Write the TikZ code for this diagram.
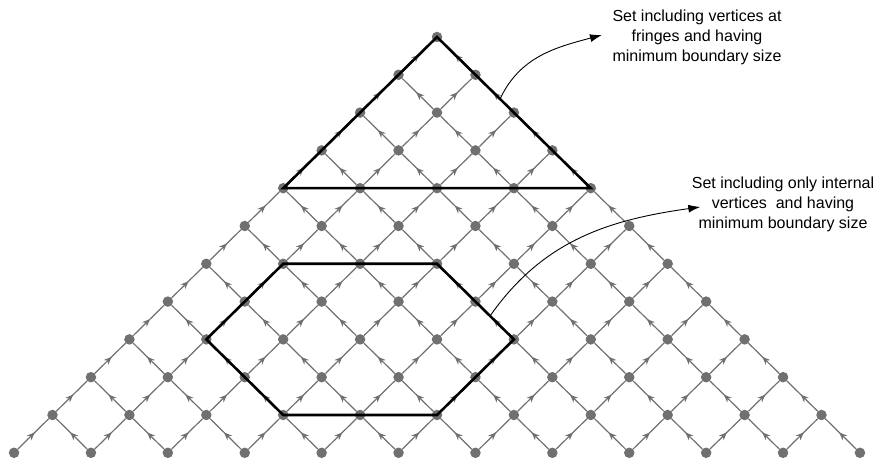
\documentclass[tikz,border=0pt]{standalone}
\usepackage{fontspec}
\setmainfont{Liberation Sans}
\usetikzlibrary{arrows.meta,decorations.markings,calc}

\definecolor{vgray}{RGB}{112,112,112}
\definecolor{egray}{RGB}{112,112,112}

\tikzset{
    vertex/.style={circle, fill=vgray, inner sep=0pt, minimum size=10.5pt},
    link/.style={draw=egray, line width=1.2pt, postaction={decorate},
        decoration={markings, mark=at position 0.55 with {\arrow[egray]{Stealth[length=8pt,width=6.5pt]}}}},
    boundary/.style={line width=2.6pt, line join=miter},
    note/.style={align=center, font=\fontsize{16}{20}\selectfont},
    pointer/.style={-{Latex[length=12pt,width=8pt]}, line width=0.9pt}
}

\begin{document}
\begin{tikzpicture}[x=1pt, y=1pt]

    \useasboundingbox (0,0) rectangle (879,462);

    % Vertices
    \foreach \k in {0,...,11} {
        \foreach \j in {0,...,\k} {
            \node[vertex] (n-\k-\j) at ({437+(2*\j-\k)*38.45}, {425-\k*37.8}) {};
        }
    }

    % Edges (pointing up)
    \foreach \k in {0,...,10} {
        \pgfmathtruncatemacro{\kk}{\k+1}
        \foreach \j in {0,...,\k} {
            \pgfmathtruncatemacro{\jj}{\j+1}
            \draw[link] (n-\kk-\j) -- (n-\k-\j);
            \draw[link] (n-\kk-\jj) -- (n-\k-\j);
        }
    }

    % Sets
    \draw[boundary] (n-0-0.center) -- (n-4-0.center) -- (n-4-4.center) -- cycle;
    \draw[boundary] (n-6-1.center) -- (n-6-3.center) -- (n-8-5.center)
        -- (n-10-5.center) -- (n-10-3.center) -- (n-8-1.center) -- cycle;

    % Labels
    \node[note] (fringe) at (697,425) {Set including vertices at\\fringes and having\\minimum boundary size};
    \node[note] (inner) at (783,258) {Set including only internal\\vertices\ \ and having\\minimum boundary size};

    \coordinate (s1) at ($(n-0-0.center)!0.41!(n-4-4.center)$);
    \coordinate (s2) at ($(n-6-3.center)!0.69!(n-8-5.center)$);
    \draw[pointer] (s1) to[out=65, in=195] ([xshift=-7pt,yshift=2pt]fringe.west);
    \draw[pointer] (s2) to[out=55, in=188] ([xshift=12pt,yshift=-3pt]inner.west);

\end{tikzpicture}
\end{document}
